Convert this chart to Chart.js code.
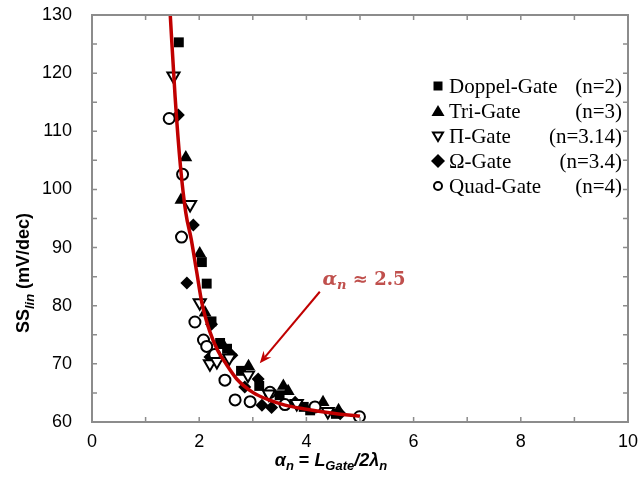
<!DOCTYPE html>
<html>
<head>
<meta charset="utf-8">
<script src="https://cdn.jsdelivr.net/npm/chart.js@4"></script>
<style>
  html, body { margin: 0; padding: 0; background: #fff; overflow: hidden; }
  #wrap { width: 644px; height: 486px; }
</style>
</head>
<body>
<div id="wrap"><canvas id="ss"></canvas></div>
<script>
// ----------- data -----------
const xTicks = [0, 2, 4, 6, 8, 10];
const yTicks = [60, 70, 80, 90, 100, 110, 120, 130];

// fitted curve (alpha_n ~ 2.5)
const fitX = [1.46, 1.55, 1.65, 1.75, 1.85, 1.95, 2.05, 2.2, 2.35, 2.5, 2.7, 3.0, 3.3, 3.6, 4.0, 4.5, 5.0];
const fitY = [130, 116, 104, 96, 91.5, 86, 80.5, 75.5, 72.2, 70, 67.4, 65.1, 63.8, 62.9, 62.2, 61.5, 61.0];

const doppelX = [1.62, 2.05, 2.14, 2.23, 2.39, 2.52, 2.78, 3.12, 3.5, 3.95, 4.07, 4.55];
const doppelY = [125.3, 87.5, 83.8, 77.3, 73.6, 72.6, 68.8, 66.2, 64.6, 62.6, 62.0, 61.4];

const triX = [1.75, 1.66, 2.01, 2.11, 2.45, 2.92, 3.57, 3.66, 4.31, 4.6];
const triY = [105.5, 98.2, 89.0, 78.8, 73.2, 69.6, 66.2, 65.3, 63.4, 62.0];

const piX = [1.52, 1.83, 2.01, 2.2, 2.33, 2.56, 2.91, 3.3, 3.82, 4.4];
const piY = [119.5, 97.4, 80.5, 70.0, 70.4, 71.0, 68.1, 64.8, 63.2, 61.8];

const omegaX = [1.61, 1.89, 1.77, 2.2, 2.23, 2.61, 2.85, 3.10, 3.17, 3.35, 3.79, 4.63];
const omegaY = [112.8, 93.9, 83.9, 71.2, 76.8, 71.5, 66.0, 67.4, 62.9, 62.5, 63.4, 61.4];

const quadX = [1.44, 1.69, 1.67, 1.92, 2.08, 2.14, 2.29, 2.48, 2.67, 2.95, 3.32, 3.6, 4.16, 4.99];
const quadY = [112.2, 102.6, 91.8, 77.2, 74.1, 73.0, 71.6, 67.2, 63.8, 63.5, 65.1, 63.0, 62.6, 60.9];

const legendNames = ['Doppel-Gate', 'Tri-Gate', '\u03A0-Gate', '\u03A9-Gate', 'Quad-Gate'];
const legendN = ['(n=2)', '(n=3)', '(n=3.14)', '(n=3.4)', '(n=4)'];

// arrow + label (data coords)
const arrowFrom = [4.25, 82.4];
const arrowTo = [3.13, 70.1];
const labelAt = [4.3, 83.6];

const pts = (xs, ys) => xs.map((x, i) => ({ x: x, y: ys[i] }));

// ----------- plugins -----------
const FRAME = '#8c8c8c';

const framePlugin = {
  id: 'frame',
  afterDatasetsDraw(chart) {
    const { ctx, chartArea: a, scales: { x, y } } = chart;
    ctx.save();
    ctx.strokeStyle = FRAME;
    ctx.lineWidth = 2;
    ctx.strokeRect(a.left, a.top, a.right - a.left, a.bottom - a.top);
    ctx.lineWidth = 1.5;
    ctx.beginPath();
    for (let v = 1; v < 10; v++) {
      const px = x.getPixelForValue(v);
      ctx.moveTo(px, a.bottom); ctx.lineTo(px, a.bottom - 5);
      ctx.moveTo(px, a.top); ctx.lineTo(px, a.top + 5);
    }
    for (let v = 65; v < 130; v += 5) {
      const py = y.getPixelForValue(v);
      ctx.moveTo(a.left, py); ctx.lineTo(a.left + 5, py);
      ctx.moveTo(a.right, py); ctx.lineTo(a.right - 5, py);
    }
    ctx.stroke();
    ctx.restore();
  }
};

function drawRuns(ctx, runs, x, y) {
  // runs: [text, font, dy]
  let cx = x;
  runs.forEach(r => {
    ctx.font = r[1];
    ctx.fillText(r[0], cx, y + (r[2] || 0));
    cx += ctx.measureText(r[0]).width;
  });
  return cx - x;
}
function runsWidth(ctx, runs) {
  let w = 0;
  runs.forEach(r => { ctx.font = r[1]; w += ctx.measureText(r[0]).width; });
  return w;
}

const textPlugin = {
  id: 'texts',
  afterDraw(chart) {
    const { ctx, scales: { x, y } } = chart;
    ctx.save();
    ctx.fillStyle = '#000';
    ctx.textBaseline = 'alphabetic';
    ctx.textAlign = 'left';

    // x title
    const B = 'bold italic 18px "Liberation Sans", Arial';
    const S = 'bold italic 13px "Liberation Sans", Arial';
    const xRuns = [['\u03B1', B], ['n', S, 4], [' = ', 'bold 18px "Liberation Sans", Arial'],
      ['L', B], ['Gate', S, 4], ['/2\u03BB', B], ['n', S, 4]];
    const xw = runsWidth(ctx, xRuns);
    drawRuns(ctx, xRuns, 331 - xw / 2, 466);

    // y title
    const yB = 'bold 18px "Liberation Sans", Arial';
    const yRuns = [['SS', yB], ['lin', 'bold italic 13px "Liberation Sans", Arial', 5], [' (mV/dec)', yB]];
    const yw = runsWidth(ctx, yRuns);
    ctx.save();
    ctx.translate(29, 273);
    ctx.rotate(-Math.PI / 2);
    drawRuns(ctx, yRuns, -yw / 2, 0);
    ctx.restore();

    // legend
    const rows = [86, 111, 136, 161, 186];
    const LF = '21px "Liberation Serif", "Times New Roman", serif';
    ctx.textBaseline = 'middle';
    rows.forEach((ry, i) => {
      const mx = 438;
      ctx.fillStyle = '#000';
      ctx.strokeStyle = '#000';
      ctx.lineWidth = 2;
      ctx.beginPath();
      if (i === 0) {
        ctx.rect(mx - 4.5, ry - 4.5, 9, 9); ctx.fill();
      } else if (i === 1) {
        ctx.moveTo(mx, ry - 6); ctx.lineTo(mx + 6.5, ry + 5); ctx.lineTo(mx - 6.5, ry + 5); ctx.closePath(); ctx.fill();
      } else if (i === 2) {
        ctx.moveTo(mx - 5, ry - 3.5); ctx.lineTo(mx + 5, ry - 3.5); ctx.lineTo(mx, ry + 5); ctx.closePath(); ctx.stroke();
      } else if (i === 3) {
        ctx.moveTo(mx, ry - 7); ctx.lineTo(mx + 7, ry); ctx.lineTo(mx, ry + 7); ctx.lineTo(mx - 7, ry); ctx.closePath(); ctx.fill();
      } else {
        ctx.arc(mx, ry, 4, 0, Math.PI * 2); ctx.stroke();
      }
      ctx.font = LF;
      ctx.textAlign = 'left';
      ctx.fillText(legendNames[i], 449, ry + 1);
      ctx.textAlign = 'right';
      ctx.fillText(legendN[i], 622, ry + 1);
    });

    // arrow
    const x0 = x.getPixelForValue(arrowFrom[0]), y0 = y.getPixelForValue(arrowFrom[1]);
    const x1 = x.getPixelForValue(arrowTo[0]), y1 = y.getPixelForValue(arrowTo[1]);
    const ang = Math.atan2(y1 - y0, x1 - x0);
    ctx.strokeStyle = '#c00000';
    ctx.fillStyle = '#c00000';
    ctx.lineWidth = 2;
    ctx.beginPath();
    ctx.moveTo(x0, y0);
    ctx.lineTo(x1 - 8 * Math.cos(ang), y1 - 8 * Math.sin(ang));
    ctx.stroke();
    ctx.beginPath();
    ctx.moveTo(x1, y1);
    ctx.lineTo(x1 - 13 * Math.cos(ang - 0.4), y1 - 13 * Math.sin(ang - 0.4));
    ctx.lineTo(x1 - 8 * Math.cos(ang), y1 - 8 * Math.sin(ang));
    ctx.lineTo(x1 - 13 * Math.cos(ang + 0.4), y1 - 13 * Math.sin(ang + 0.4));
    ctx.closePath();
    ctx.fill();

    // label
    ctx.fillStyle = '#c0504d';
    ctx.textAlign = 'left';
    ctx.textBaseline = 'alphabetic';
    const lx = x.getPixelForValue(labelAt[0]), ly = y.getPixelForValue(labelAt[1]);
    drawRuns(ctx, [['\u03B1', 'bold italic 19px "DejaVu Serif", serif'],
      ['n', 'bold italic 13px "DejaVu Serif", serif', 4],
      [' \u2248 2.5', 'bold 18px "DejaVu Serif", serif']], lx, ly);
    ctx.restore();
  }
};

// ----------- chart -----------
const scatterStyle = {
  showLine: false,
  borderColor: '#000',
  borderWidth: 2,
  pointHoverRadius: 6
};

new Chart(document.getElementById('ss'), {
  type: 'scatter',
  data: {
    datasets: [
      {
        label: 'fit',
        data: pts(fitX, fitY),
        showLine: true,
        borderColor: '#c00000',
        borderWidth: 3.5,
        pointRadius: 0,
        cubicInterpolationMode: 'monotone',
        order: 0
      },
      Object.assign({}, scatterStyle, {
        label: legendNames[0] + ' ' + legendN[0], data: pts(doppelX, doppelY),
        pointStyle: 'rect', pointRadius: 7, backgroundColor: '#000', borderWidth: 0, order: 2
      }),
      Object.assign({}, scatterStyle, {
        label: legendNames[1] + ' ' + legendN[1], data: pts(triX, triY),
        pointStyle: 'triangle', pointRadius: 7.5, backgroundColor: '#000', borderWidth: 0, order: 2
      }),
      Object.assign({}, scatterStyle, {
        label: legendNames[2] + ' ' + legendN[2], data: pts(piX, piY),
        pointStyle: 'triangle', pointRotation: 180, pointRadius: 7, backgroundColor: '#fff', order: 1
      }),
      Object.assign({}, scatterStyle, {
        label: legendNames[3] + ' ' + legendN[3], data: pts(omegaX, omegaY),
        pointStyle: 'rectRot', pointRadius: 6.5, backgroundColor: '#000', borderWidth: 0, order: 2
      }),
      Object.assign({}, scatterStyle, {
        label: legendNames[4] + ' ' + legendN[4], data: pts(quadX, quadY),
        pointStyle: 'circle', pointRadius: 5.5, backgroundColor: '#fff', order: 1
      })
    ]
  },
  options: {
    responsive: true,
    maintainAspectRatio: false,
    animation: false,
    layout: { padding: { top: 15, right: 16, left: 0, bottom: 0 } },
    plugins: {
      legend: { display: false },
      tooltip: { enabled: false }
    },
    scales: {
      x: {
        type: 'linear',
        min: 0, max: 10,
        afterFit: s => { s.height = 64; s.paddingLeft = 0; s.paddingRight = 0; },
        afterBuildTicks: s => { s.ticks = xTicks.map(v => ({ value: v })); },
        grid: { display: false, drawTicks: false },
        border: { display: false },
        ticks: { color: '#000', padding: 9, maxRotation: 0, font: { family: '"Liberation Sans", Arial', size: 18 } }
      },
      y: {
        type: 'linear',
        min: 60, max: 130,
        afterFit: s => { s.width = 92; s.paddingTop = 0; s.paddingBottom = 0; },
        afterBuildTicks: s => { s.ticks = yTicks.map(v => ({ value: v })); },
        grid: { display: false, drawTicks: false },
        border: { display: false },
        ticks: { color: '#000', padding: 20, font: { family: '"Liberation Sans", Arial', size: 18 } }
      }
    }
  },
  plugins: [framePlugin, textPlugin]
});
</script>
</body>
</html>
